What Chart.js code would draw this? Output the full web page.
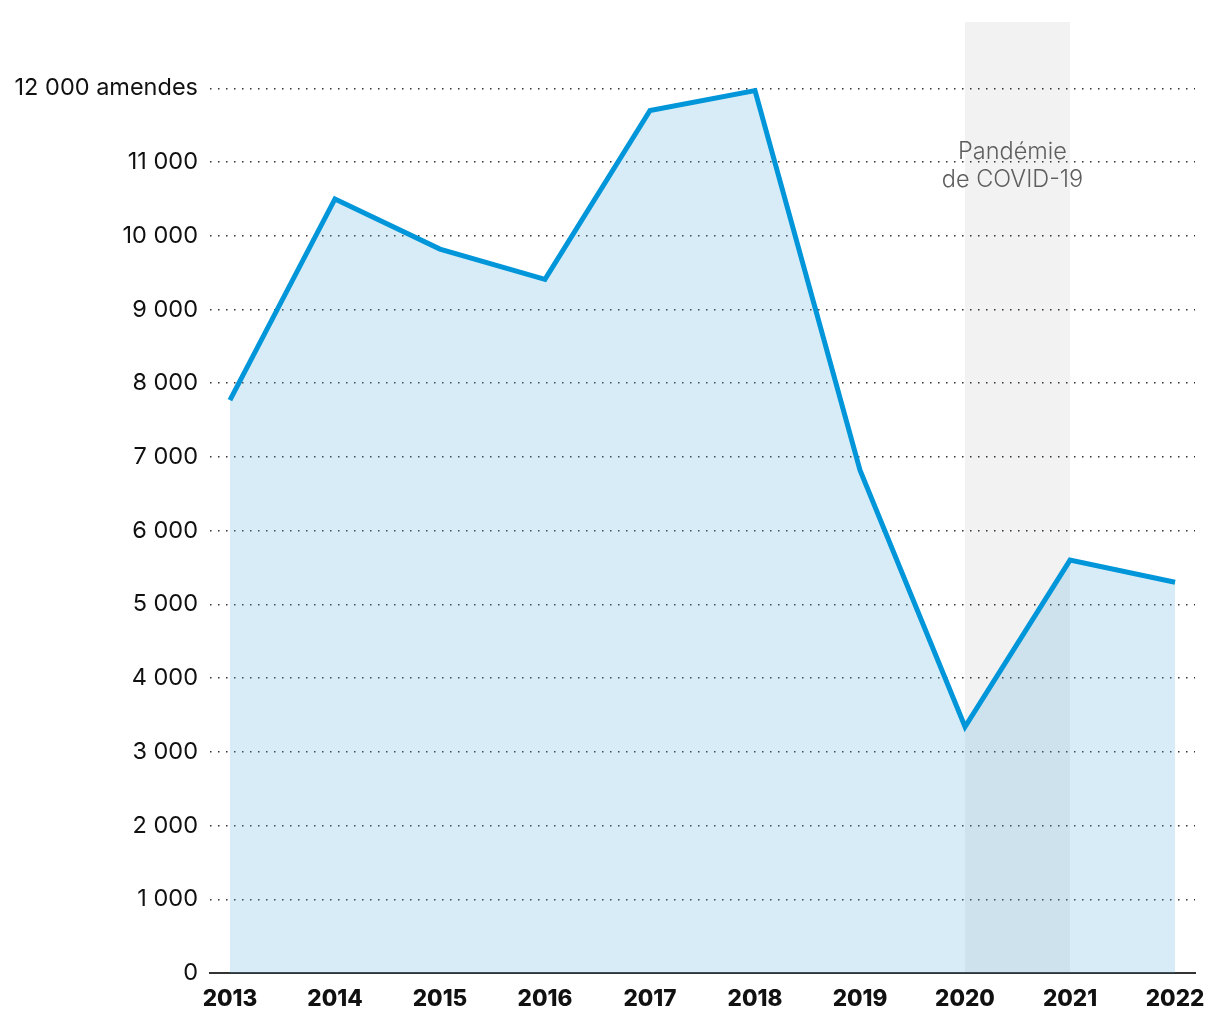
<!DOCTYPE html>
<html>
<head>
<meta charset="utf-8">
<script src="https://cdn.jsdelivr.net/npm/chart.js@4"></script>
<style>
  html, body { margin: 0; padding: 0; background: #fff; }
  #wrap { width: 1220px; height: 1020px; }
</style>
</head>
<body>
<div id="wrap"><canvas id="c"></canvas></div>
<script>
// ── Données ────────────────────────────────────────────
const years   = [2013, 2014, 2015, 2016, 2017, 2018, 2019, 2020, 2021, 2022];
const amendes = [7770, 10500, 9820, 9410, 11700, 11970, 6820, 3340, 5600, 5300];
const yTicks  = [0, 1000, 2000, 3000, 4000, 5000, 6000, 7000, 8000, 9000, 10000, 11000, 12000];
const covid   = { from: 2020, to: 2021, label: ['Pandémie', 'de COVID-19'] };

const FONT = 'Inter, "Noto Sans", sans-serif';
const fmtNum = v => String(v).replace(/\B(?=(\d{3})+(?!\d))/g, ' ');

// bande grise COVID, dessinée avant les échelles
const covidBand = {
    id: 'covidBand',
    beforeDraw(chart) {
        const { ctx, chartArea: a, scales: { x } } = chart;
        const x0 = x.getPixelForValue(covid.from), x1 = x.getPixelForValue(covid.to);
        ctx.save();
        ctx.fillStyle = '#f2f2f2';
        ctx.fillRect(x0, a.top, x1 - x0, a.bottom - a.top);
        ctx.restore();
    },
    afterDraw(chart) {
        const { ctx, chartArea: a, scales: { x } } = chart;
        const cx = (x.getPixelForValue(covid.from) + x.getPixelForValue(covid.to)) / 2;
        ctx.save();
        ctx.fillStyle = '#5e5e5e';
        ctx.font = '300 23.5px ' + FONT;
        ctx.textAlign = 'center';
        ctx.textBaseline = 'middle';
        covid.label.forEach((t, i) => ctx.fillText(t, cx - 5, a.top + 130 + i * 28));
        ctx.restore();
    }
};

new Chart(document.getElementById('c'), {
    type: 'line',
    data: {
        datasets: [{
            data: years.map((y, i) => ({ x: y, y: amendes[i] })),
            borderColor: '#0096d9',
            borderWidth: 5,
            backgroundColor: 'rgba(81,172,220,0.23)',
            fill: 'origin',
            pointRadius: 0,
            tension: 0
        }]
    },
    options: {
        responsive: true,
        maintainAspectRatio: false,
        animation: false,
        layout: { padding: { top: 22, right: 25, left: 0, bottom: 0 } },
        plugins: { legend: { display: false }, tooltip: { enabled: false } },
        scales: {
            x: {
                type: 'linear',
                min: 2012.81, max: 2022.19,
                afterBuildTicks: s => { s.ticks = years.map(v => ({ value: v })); },
                afterFit: s => { s.height = 47; },
                ticks: {
                    callback: v => String(v),
                    color: '#111', padding: 13,
                    font: { family: FONT, size: 22.5, weight: '800' },
                    maxRotation: 0, autoSkip: false
                },
                grid: { display: false, drawTicks: false },
                border: { display: true, color: '#333', width: 2 }
            },
            y: {
                min: 0, max: 12900,
                z: 1,
                afterBuildTicks: s => { s.ticks = yTicks.map(v => ({ value: v })); },
                afterFit: s => { s.width = 210; s.paddingTop = 0; s.paddingBottom = 0; },
                ticks: {
                    callback: v => v === 12000 ? fmtNum(v) + ' amendes' : fmtNum(v),
                    color: '#111', padding: 12,
                    font: { family: FONT, size: 23.5 }
                },
                grid: {
                    drawTicks: false,
                    color: c => c.tick.value === 0 ? 'rgba(0,0,0,0)' : '#333',
                    lineWidth: 1.5
                },
                border: { display: false, dash: [1.5, 6.5] }
            }
        }
    },
    plugins: [covidBand]
});
</script>
</body>
</html>
